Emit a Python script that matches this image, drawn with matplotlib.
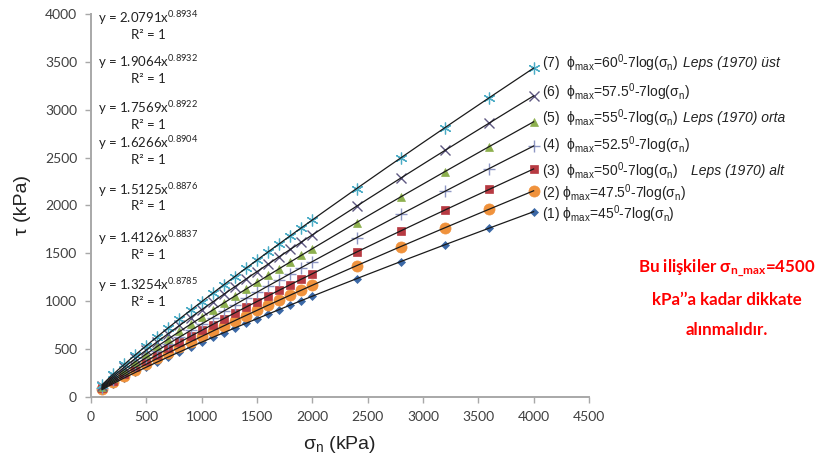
import numpy as np
import matplotlib
matplotlib.use("Agg")
import matplotlib.pyplot as plt

plt.rcParams['mathtext.fontset'] = 'custom'
plt.rcParams['mathtext.rm'] = 'Liberation Sans'
plt.rcParams['mathtext.it'] = 'Liberation Sans:italic'
plt.rcParams['mathtext.sf'] = 'Lato'
plt.rcParams['mathtext.bf'] = 'Lato:bold'

# Normal stress values (kPa)
sigma_n = [100, 200, 300, 400, 500, 600, 700, 800, 900, 1000,
           1100, 1200, 1300, 1400, 1500, 1600, 1700, 1800, 1900, 2000,
           2400, 2800, 3200, 3600, 4000]

# Shear strength tau (kPa) for each phi_max relation
tau_1 = [76, 139, 199, 256, 311, 366, 419, 471, 522, 572, 622, 672, 721, 769, 817,
         865, 912, 959, 1006, 1052, 1235, 1414, 1591, 1764, 1935]
tau_2 = [83, 153, 218, 282, 343, 403, 462, 519, 576, 632, 688, 743, 797, 851, 905,
         958, 1011, 1063, 1115, 1167, 1371, 1571, 1768, 1962, 2153]
tau_3 = [90, 167, 239, 309, 376, 442, 507, 571, 634, 696, 757, 818, 878, 938, 997,
         1056, 1114, 1172, 1230, 1287, 1513, 1735, 1953, 2169, 2381]
tau_4 = [98, 182, 261, 337, 412, 484, 555, 625, 695, 763, 830, 897, 963, 1029, 1094,
         1159, 1223, 1287, 1351, 1414, 1663, 1908, 2149, 2386, 2621]
tau_5 = [107, 198, 285, 368, 450, 529, 607, 684, 759, 834, 908, 981, 1054, 1126, 1198,
         1269, 1339, 1409, 1479, 1548, 1822, 2090, 2355, 2616, 2874]
tau_6 = [117, 216, 311, 402, 491, 578, 663, 747, 830, 911, 992, 1072, 1152, 1231, 1309,
         1387, 1464, 1541, 1617, 1693, 1992, 2286, 2576, 2862, 3144]
tau_7 = [127, 236, 340, 439, 536, 631, 724, 816, 906, 995, 1084, 1171, 1258, 1344, 1430,
         1515, 1599, 1683, 1766, 1849, 2176, 2497, 2814, 3126, 3435]

# Power-law trendline coefficients  y = a * x^b
fit_a = [1.3254, 1.4126, 1.5125, 1.6266, 1.7569, 1.9064, 2.0791]
fit_b = [0.8785, 0.8837, 0.8876, 0.8904, 0.8922, 0.8932, 0.8934]

# Relation labels: upright part and italic reference part
series_labels = [
    r"(1) ϕ$_{\mathrm{max}}$=45$^{\mathrm{0}}$-7log(σ$_{\mathrm{n}}$)",
    r"(2) ϕ$_{\mathrm{max}}$=47.5$^{\mathrm{0}}$-7log(σ$_{\mathrm{n}}$)",
    r"(3)  ϕ$_{\mathrm{max}}$=50$^{\mathrm{0}}$-7log(σ$_{\mathrm{n}}$)",
    r"(4)  ϕ$_{\mathrm{max}}$=52.5$^{\mathrm{0}}$-7log(σ$_{\mathrm{n}}$)",
    r"(5)  ϕ$_{\mathrm{max}}$=55$^{\mathrm{0}}$-7log(σ$_{\mathrm{n}}$)",
    r"(6)  ϕ$_{\mathrm{max}}$=57.5$^{\mathrm{0}}$-7log(σ$_{\mathrm{n}}$)",
    r"(7)  ϕ$_{\mathrm{max}}$=60$^{\mathrm{0}}$-7log(σ$_{\mathrm{n}}$)",
]
series_refs = ["", "", "Leps (1970) alt", "", "Leps (1970) orta", "", "Leps (1970) üst"]
ref_gap = [0, 0, 9, 0, 3, 0, 3]
label_y = [1911, 2131, 2360, 2632, 2914, 3185, 3488]
eq_y = [1170, 1660, 2165, 2655, 3020, 3500, 3960]

all_tau = [tau_1, tau_2, tau_3, tau_4, tau_5, tau_6, tau_7]
styles = [
    dict(marker='D', color='#3B68A6', ms=4.0, mew=0.5),
    dict(marker='o', color='#F0923C', ms=8.0, mew=0.5),
    dict(marker='s', color='#B73A42', ms=5.8, mew=0.5),
    dict(marker='+', color='#8E97C4', ms=8.0, mew=1.0),
    dict(marker='^', color='#8DB04E', ms=6.0, mew=0.5),
    dict(marker='x', color='#5E5882', ms=7.0, mew=1.0),
    dict(marker=(6, 2, 0), color='#4BACC6', ms=8.5, mew=0.9),
]

fig = plt.figure(figsize=(8.18, 4.59), dpi=100)
ax = fig.add_axes([0.1112, 0.1351, 0.6088, 0.8344])

for tau, st in zip(all_tau, styles):
    ax.plot(sigma_n, tau, linestyle='none', marker=st['marker'], markersize=st['ms'],
            color=st['color'], markeredgecolor=st['color'], markeredgewidth=st['mew'],
            zorder=2)

xs = np.linspace(sigma_n[0], sigma_n[-1], 200)
for a, b in zip(fit_a, fit_b):
    ax.plot(xs, a * xs ** b, color='#1a1a1a', lw=0.9, zorder=3)

# Series labels at line ends
for lab, ref, gap, ly in zip(series_labels, series_refs, ref_gap, label_y):
    t = ax.text(4075, ly, lab, fontsize=10, family='Liberation Sans', color='#222222',
                va='center', ha='left', clip_on=False)
    if ref:
        ax.annotate(ref, xy=(1, 0.5), xycoords=t, xytext=(gap, 0),
                    textcoords='offset points', fontsize=10, family='Liberation Sans',
                    style='italic', color='#222222', va='center', ha='left',
                    annotation_clip=False)

# Trendline equations
for a, b, ey in zip(fit_a, fit_b, eq_y):
    ax.text(515, ey, f"y = {a:.4f}x$^{{\\mathsf{{{b:.4f}}}}}$", fontsize=9.5,
            family='Lato', color='#222222', ha='center', va='center')
    ax.text(515, ey - 175, "R² = 1", fontsize=9.5, family='Lato',
            color='#222222', ha='center', va='center')

ax.set_xlim(0, 4500)
ax.set_ylim(0, 4000)
ax.set_xticks(np.arange(0, 4501, 500))
ax.set_yticks(np.arange(0, 4001, 500))
for lbl in ax.get_xticklabels() + ax.get_yticklabels():
    lbl.set_family('Lato')
    lbl.set_fontsize(10)
    lbl.set_color('#404040')

for side in ['top', 'right']:
    ax.spines[side].set_visible(False)
for side in ['left', 'bottom']:
    ax.spines[side].set_color('#A8A8A8')
    ax.spines[side].set_linewidth(1.4)
ax.tick_params(direction='out', length=4, width=1, color='#A8A8A8', pad=6)

ax.set_xlabel(r"σ$_{\mathrm{n}}$ (kPa)", fontsize=14, family='Liberation Sans',
              color='#222222', labelpad=8)
ax.set_ylabel("τ (kPa)", fontsize=14, family='Liberation Sans', color='#222222',
              labelpad=10)

# Validity note
note_kw = dict(fontsize=12.2, family='Lato', fontweight='bold', color='#FF0000',
               ha='center', va='center')
fig.text(0.888, 1 - 268 / 459, r"Bu ilişkiler σ$_{\mathbf{n\_max}}$=4500", **note_kw)
fig.text(0.888, 1 - 300 / 459, "kPa’’a kadar dikkate", **note_kw)
fig.text(0.888, 1 - 330 / 459, "alınmalıdır.", **note_kw)

fig.savefig("out.png", dpi=100)
